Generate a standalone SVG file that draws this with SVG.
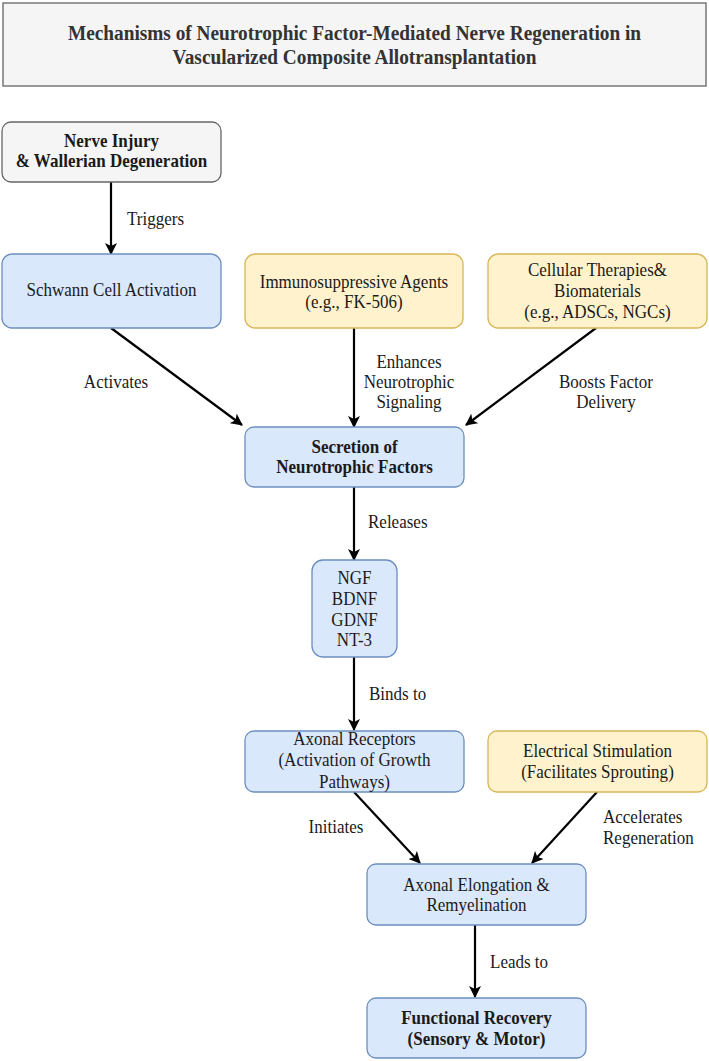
<svg xmlns="http://www.w3.org/2000/svg" width="709" height="1061" viewBox="0 0 709 1061">
<style>
.title{font-family:"Liberation Serif","Times New Roman",serif;font-weight:bold;font-size:21px;fill:#333;text-anchor:middle}
.t{font-family:"Liberation Serif","Times New Roman",serif;font-size:18.5px;fill:#1a1a1a;text-anchor:middle}
.b{font-weight:bold}
.lbl{font-family:"Liberation Serif","Times New Roman",serif;font-size:18.5px;fill:#1a1a1a}
.blue{fill:#dae8fc;stroke:#6c8ebf;stroke-width:1.3}
.yel{fill:#fff2cc;stroke:#d6b656;stroke-width:1.3}
.gray{fill:#f5f5f5;stroke:#666;stroke-width:1.3}
.edge{stroke:#000;stroke-width:2.2;fill:none;marker-end:url(#arr)}
</style>
<defs>
<marker id="arr" viewBox="0 0 12 12" refX="11" refY="6" markerWidth="12" markerHeight="12" markerUnits="userSpaceOnUse" orient="auto">
<path d="M0,0 L12,6 L0,12 L3,6 z" fill="#000"/>
</marker>
</defs>
<rect width="709" height="1061" fill="#fff"/>
<g id="title">
<rect x="3" y="3" width="703" height="83" fill="#f5f5f5" stroke="#777" stroke-width="1.5"/>
<text class="title" transform="scale(0.92 1)" x="385.33" y="40">Mechanisms of Neurotrophic Factor-Mediated Nerve Regeneration in</text>
<text class="title" transform="scale(0.92 1)" x="385.33" y="64">Vascularized Composite Allotransplantation</text>
</g>
<g id="connectors">
<line class="edge" x1="111" y1="182" x2="111" y2="254"/>
<text class="lbl" transform="scale(0.92 1)" x="138.04" y="225">Triggers</text>
<line class="edge" x1="111" y1="328" x2="242" y2="425"/>
<text class="lbl" transform="scale(0.92 1)" x="126.09" y="388" text-anchor="middle">Activates</text>
<line class="edge" x1="354" y1="328" x2="354" y2="427"/>
<text class="lbl" transform="scale(0.92 1)" x="444.57" y="368" text-anchor="middle">Enhances</text>
<text class="lbl" transform="scale(0.92 1)" x="444.57" y="388" text-anchor="middle">Neurotrophic</text>
<text class="lbl" transform="scale(0.92 1)" x="444.57" y="408" text-anchor="middle">Signaling</text>
<line class="edge" x1="596" y1="328" x2="466" y2="425"/>
<text class="lbl" transform="scale(0.92 1)" x="658.70" y="388" text-anchor="middle">Boosts Factor</text>
<text class="lbl" transform="scale(0.92 1)" x="658.70" y="408" text-anchor="middle">Delivery</text>
<line class="edge" x1="354" y1="487" x2="354" y2="560"/>
<text class="lbl" transform="scale(0.92 1)" x="400" y="528">Releases</text>
<line class="edge" x1="354" y1="657" x2="354" y2="730"/>
<text class="lbl" transform="scale(0.92 1)" x="401.09" y="700">Binds to</text>
<line class="edge" x1="354" y1="792" x2="420" y2="863"/>
<text class="lbl" transform="scale(0.92 1)" x="365.22" y="833" text-anchor="middle">Initiates</text>
<line class="edge" x1="597" y1="792" x2="532" y2="863"/>
<text class="lbl" transform="scale(0.92 1)" x="655.43" y="823">Accelerates</text>
<text class="lbl" transform="scale(0.92 1)" x="655.43" y="844">Regeneration</text>
<line class="edge" x1="475" y1="925" x2="475" y2="997"/>
<text class="lbl" transform="scale(0.92 1)" x="532.61" y="968">Leads to</text>
</g>
<g id="nerve-injury">
<rect class="gray" x="2" y="122" width="219" height="60" rx="9"/>
<text class="t b" transform="scale(0.92 1)" x="121.20" y="147">Nerve Injury</text>
<text class="t b" transform="scale(0.92 1)" x="121.20" y="167">&amp; Wallerian Degeneration</text>
</g>
<g id="schwann">
<rect class="blue" x="2" y="254" width="219" height="74" rx="10"/>
<text class="t" transform="scale(0.92 1)" x="121.20" y="296">Schwann Cell Activation</text>
</g>
<g id="immuno">
<rect class="yel" x="245" y="254" width="218" height="74" rx="10"/>
<text class="t" transform="scale(0.92 1)" x="384.78" y="288">Immunosuppressive Agents</text>
<text class="t" transform="scale(0.92 1)" x="384.78" y="308">(e.g., FK-506)</text>
</g>
<g id="cellular">
<rect class="yel" x="488" y="254" width="219" height="74" rx="10"/>
<text class="t" transform="scale(0.92 1)" x="649.46" y="276">Cellular Therapies&amp;</text>
<text class="t" transform="scale(0.92 1)" x="649.46" y="297">Biomaterials</text>
<text class="t" transform="scale(0.92 1)" x="649.46" y="318">(e.g., ADSCs, NGCs)</text>
</g>
<g id="secretion">
<rect class="blue" x="245" y="427" width="219" height="60" rx="9"/>
<text class="t b" transform="scale(0.92 1)" x="385.33" y="453">Secretion of</text>
<text class="t b" transform="scale(0.92 1)" x="385.33" y="473">Neurotrophic Factors</text>
</g>
<g id="factors">
<rect class="blue" x="312" y="560" width="85" height="97" rx="11"/>
<text class="t" transform="scale(0.92 1)" x="385.33" y="584">NGF</text>
<text class="t" transform="scale(0.92 1)" x="385.33" y="605">BDNF</text>
<text class="t" transform="scale(0.92 1)" x="385.33" y="626">GDNF</text>
<text class="t" transform="scale(0.92 1)" x="385.33" y="646">NT-3</text>
</g>
<g id="receptors">
<rect class="blue" x="245" y="731" width="219" height="61" rx="9"/>
<text class="t" transform="scale(0.92 1)" x="385.33" y="745">Axonal Receptors</text>
<text class="t" transform="scale(0.92 1)" x="385.33" y="766">(Activation of Growth</text>
<text class="t" transform="scale(0.92 1)" x="385.33" y="788">Pathways)</text>
</g>
<g id="electrical">
<rect class="yel" x="488" y="731" width="219" height="61" rx="9"/>
<text class="t" transform="scale(0.92 1)" x="649.46" y="757">Electrical Stimulation</text>
<text class="t" transform="scale(0.92 1)" x="649.46" y="778">(Facilitates Sprouting)</text>
</g>
<g id="elongation">
<rect class="blue" x="367" y="864" width="219" height="61" rx="9"/>
<text class="t" transform="scale(0.92 1)" x="517.93" y="891">Axonal Elongation &amp;</text>
<text class="t" transform="scale(0.92 1)" x="517.93" y="911">Remyelination</text>
</g>
<g id="recovery">
<rect class="blue" x="367" y="998" width="219" height="60" rx="9"/>
<text class="t b" transform="scale(0.92 1)" x="517.93" y="1024">Functional Recovery</text>
<text class="t b" transform="scale(0.92 1)" x="517.93" y="1045">(Sensory &amp; Motor)</text>
</g>
</svg>
